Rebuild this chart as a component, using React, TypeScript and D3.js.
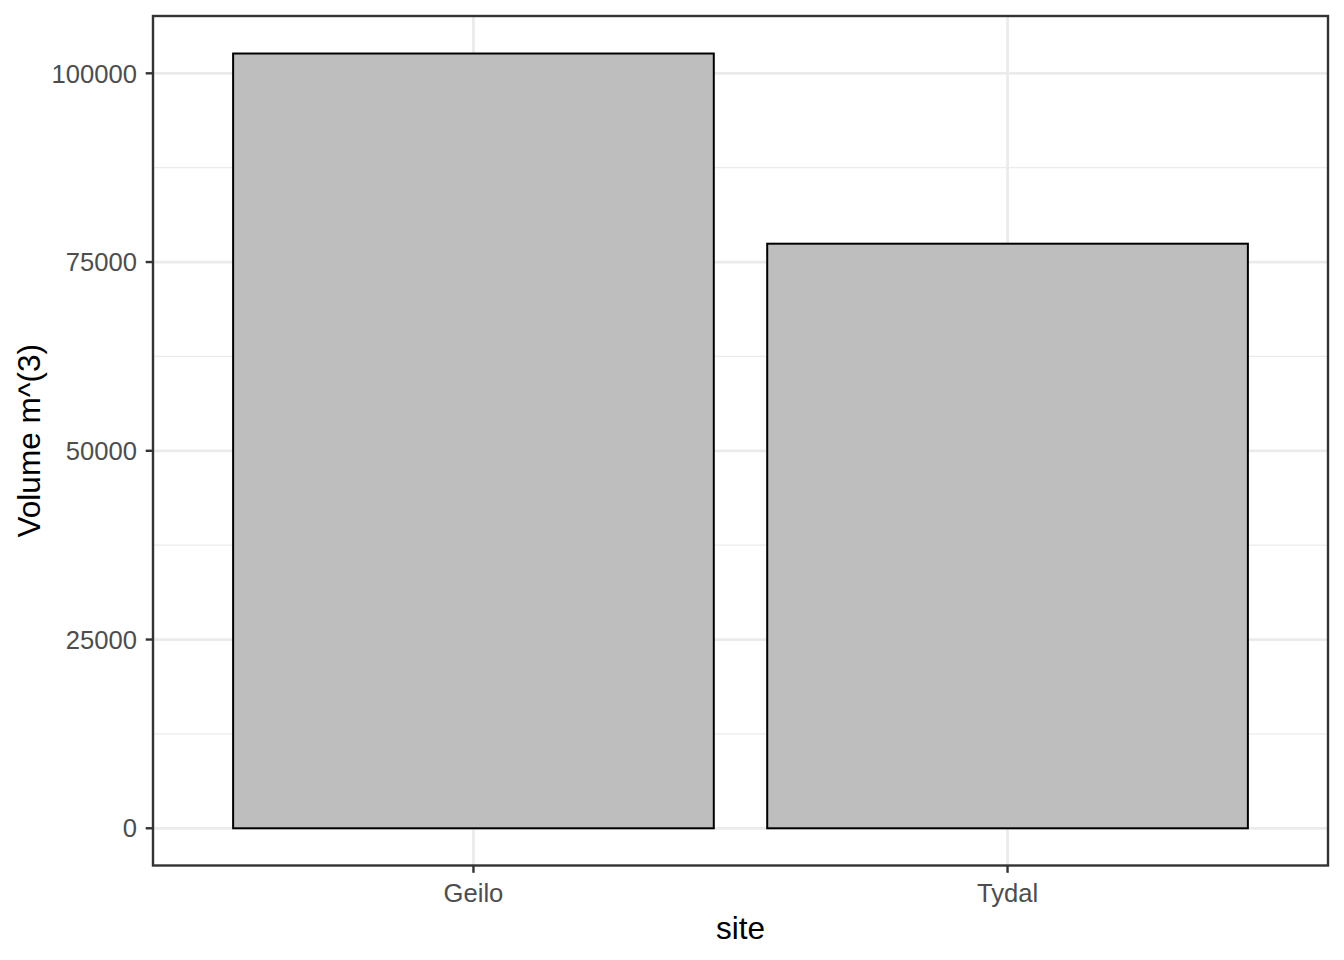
import React from "react";
import * as d3 from "d3";

const sites = ["Geilo", "Tydal"];
const volumes = [102620, 77430];
const yTicks = [0, 25000, 50000, 75000, 100000];
const yMinor = [12500, 37500, 62500, 87500];

const W = 1344;
const H = 960;
const panel = { left: 153, right: 1328, top: 16, bottom: 865.5 };

export default function App() {
  const y = d3.scaleLinear().domain([-4930, 107590]).range([panel.bottom, panel.top]);
  // discrete scale with 0.6 unit expansion each side, bar width 0.9
  const x = d3
    .scaleLinear()
    .domain([1 - 0.6, sites.length + 0.6])
    .range([panel.left, panel.right]);
  const cx = (i: number) => x(i + 1);
  const barW = x(1.9) - x(1);
  const font = "Liberation Sans, Arial, sans-serif";
  const tickFs = 25.6;
  const titleFs = 31.5;
  return (
    <svg width={W} height={H} style={{ position: "absolute", left: 0, top: 0 }}>
      <rect x={0} y={0} width={W} height={H} fill="white" />
      {yMinor.map((t) => (
        <line key={"m" + t} x1={panel.left} x2={panel.right} y1={y(t)} y2={y(t)} stroke="#EBEBEB" strokeWidth={1.4} />
      ))}
      {yTicks.map((t) => (
        <line key={"g" + t} x1={panel.left} x2={panel.right} y1={y(t)} y2={y(t)} stroke="#EBEBEB" strokeWidth={2.8} />
      ))}
      {sites.map((s, i) => (
        <line key={"gx" + s} x1={cx(i)} x2={cx(i)} y1={panel.top} y2={panel.bottom} stroke="#EBEBEB" strokeWidth={2.8} />
      ))}
      {sites.map((s, i) => (
        <rect
          key={"b" + s}
          x={cx(i) - barW / 2}
          y={y(volumes[i])}
          width={barW}
          height={y(0) - y(volumes[i])}
          fill="#BEBEBE"
          stroke="black"
          strokeWidth={2}
        />
      ))}
      <rect
        x={panel.left}
        y={panel.top}
        width={panel.right - panel.left}
        height={panel.bottom - panel.top}
        fill="none"
        stroke="#333333"
        strokeWidth={2.4}
      />
      {yTicks.map((t) => (
        <g key={"t" + t}>
          <line x1={panel.left - 7.3} x2={panel.left} y1={y(t)} y2={y(t)} stroke="#333333" strokeWidth={2.4} />
          <text x={137} y={y(t)} dy="0.36em" textAnchor="end" fontFamily={font} fontSize={tickFs} fill="#4D4D4D">
            {t}
          </text>
        </g>
      ))}
      {sites.map((s, i) => (
        <g key={"xt" + s}>
          <line x1={cx(i)} x2={cx(i)} y1={panel.bottom} y2={panel.bottom + 7.3} stroke="#333333" strokeWidth={2.4} />
          <text x={cx(i)} y={902} textAnchor="middle" fontFamily={font} fontSize={tickFs} fill="#4D4D4D">
            {s}
          </text>
        </g>
      ))}
      <text x={(panel.left + panel.right) / 2} y={938.5} textAnchor="middle" fontFamily={font} fontSize={titleFs} fill="black">
        site
      </text>
      <text
        transform={`translate(40,${(panel.top + panel.bottom) / 2}) rotate(-90)`}
        textAnchor="middle"
        fontFamily={font}
        fontSize={titleFs}
        fill="black"
      >
        Volume m^(3)
      </text>
    </svg>
  );
}
